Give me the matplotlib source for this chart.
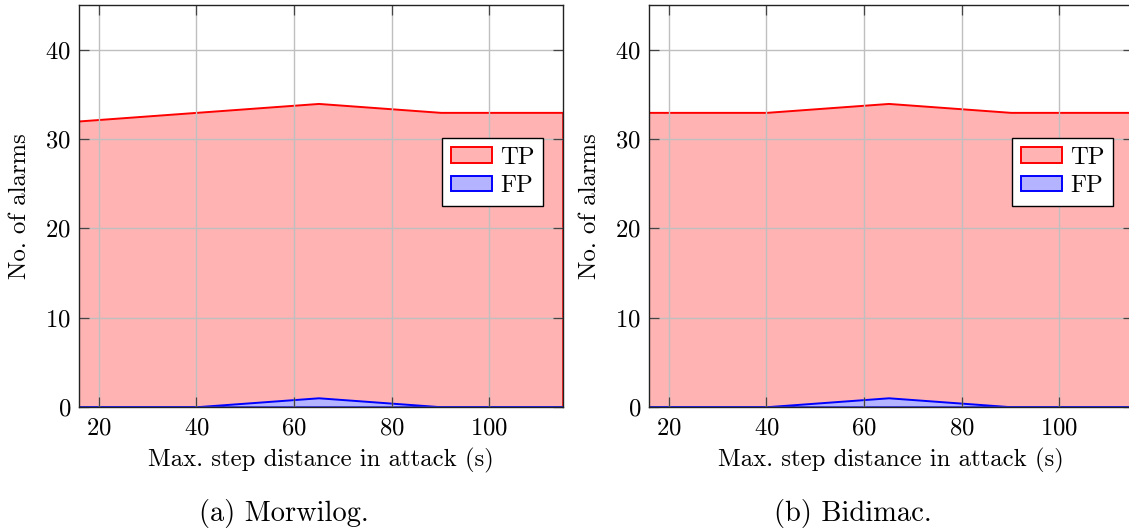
import matplotlib
matplotlib.use("Agg")
import matplotlib.pyplot as plt
from matplotlib.patches import Patch

plt.rcParams["font.family"] = "cmr10"
plt.rcParams["mathtext.fontset"] = "cm"
plt.rcParams["axes.formatter.use_mathtext"] = True

# data
STEP_DIST = [15, 40, 65, 90, 115]
TP_MORWILOG = [32, 33, 34, 33, 33]
FP_MORWILOG = [0, 0, 1, 0, 0]
TP_BIDIMAC = [33, 33, 34, 33, 33]
FP_BIDIMAC = [0, 0, 1, 0, 0]
X_TICKS = [20, 40, 60, 80, 100]
Y_TICKS = [0, 10, 20, 30, 40]
CAPTIONS = ["(a) Morwilog.", "(b) Bidimac."]

TP_FILL = "#ffb3b3"
FP_FILL = "#b3b3ff"
FS = 17.8


def draw_panel(ax, tp, fp):
    ax.fill_between(STEP_DIST, 0, tp, facecolor=TP_FILL, edgecolor="red",
                    linewidth=1.4, zorder=1)
    ax.fill_between(STEP_DIST, 0, fp, facecolor=FP_FILL, edgecolor="blue",
                    linewidth=1.4, zorder=1.5)
    ax.set_xlim(16, 115)
    ax.set_ylim(0, 45)
    ax.set_xticks(X_TICKS)
    ax.set_yticks(Y_TICKS)
    # pgfplots "axis on top": grid drawn over the fills
    ax.set_axisbelow(False)
    ax.grid(True, color="#bfbfbf", linewidth=1.0)
    ax.tick_params(direction="in", length=7, width=0.9, color="#444444",
                   top=True, right=True, labelsize=FS)
    ax.tick_params(axis="x", pad=8)
    ax.tick_params(axis="y", pad=6)
    for sp in ax.spines.values():
        sp.set_color("#222222")
        sp.set_linewidth(1.0)
        sp.set_zorder(3)
    ax.set_xlabel("Max. step distance in attack (s)", fontsize=FS)
    ax.set_ylabel("No. of alarms", fontsize=FS)
    ax.xaxis.set_label_coords(0.5, -0.133)
    ax.xaxis.label.set_va("center")
    ax.yaxis.set_label_coords(-0.123, 0.5)
    ax.yaxis.label.set_va("center")
    handles = [Patch(facecolor=TP_FILL, edgecolor="red", linewidth=1.4, label="TP"),
               Patch(facecolor=FP_FILL, edgecolor="blue", linewidth=1.4, label="FP")]
    leg = ax.legend(handles=handles, loc="upper right", bbox_to_anchor=(0.96, 0.669),
                    fontsize=FS, fancybox=False, framealpha=1, edgecolor="black",
                    handlelength=1.65, handleheight=0.6, handletextpad=0.35,
                    borderpad=0.35, labelspacing=0.25, borderaxespad=0)
    leg.get_frame().set_linewidth(1.0)
    leg.set_zorder(5)


fig = plt.figure(figsize=(11.29, 5.32), dpi=100)
ax1 = fig.add_axes([0.0702, 0.2355, 0.4282, 0.7545])
ax2 = fig.add_axes([0.5751, 0.2355, 0.4282, 0.7545])

draw_panel(ax1, TP_MORWILOG, FP_MORWILOG)
draw_panel(ax2, TP_BIDIMAC, FP_BIDIMAC)

fig.text(284 / 1129, 1 - 513 / 532, CAPTIONS[0], ha="center", va="center", fontsize=20.5)
fig.text(853 / 1129, 1 - 513 / 532, CAPTIONS[1], ha="center", va="center", fontsize=20.5)

fig.savefig("out.png", dpi=100)
